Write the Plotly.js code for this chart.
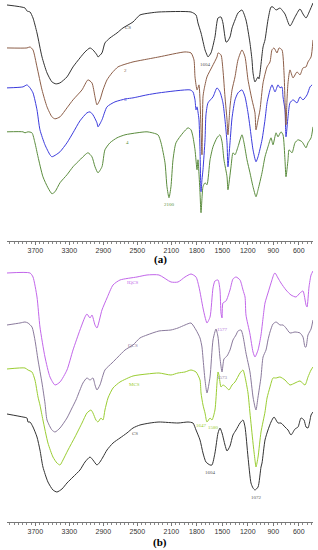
<!DOCTYPE html>
<html><head><meta charset="utf-8">
<script src="https://cdn.plot.ly/plotly-3.0.1.min.js"></script>
<style>html,body{margin:0;padding:0;background:#fff}#c{width:318px;height:550px}</style>
</head><body><div id="c"></div>
<script>
// Wavenumber tick labels (cm-1)
const tickWn = [3700, 3300, 2900, 2500, 2100, 1800, 1500, 1200, 900, 600];

// Panel (a) series: wavenumber / relative transmittance (offset, a.u.)
const aCS_x = [4034,3822,3799,3763,3728,3681,3622,3563,3505,3458,3410,3328,3257,3175,3116,3057,3022,2975,2963,2916,2881,2822,2739,2669,2551,2469,2351,2245,1868,1809,1786,1750,1703,1680,1668,1633,1586,1550,1515,1492,1456,1444,1409,1385,1350,1315,1268,1221,1174,1150,1138,1115,1079,1068,1020,997,962,926,903,867,820,797,762,703,644,585,550,514,467,432];
const aCS_y = [236,233,230,229,223,208,184,168,159,157,158,164,174,183,189,193,191,186,184,188,198,203,208,213,219,226,228,229,229,226,218,208,191,186,184,188,204,223,224,218,199,199,204,213,221,228,231,221,198,181,168,159,164,162,194,201,221,234,234,231,233,231,227,215,224,232,227,223,231,238];

const a2_x = [4034,3799,3763,3728,3681,3622,3563,3505,3469,3410,3328,3257,3151,3081,3034,2998,2975,2940,2904,2857,2798,2728,2669,2551,2433,2245,1939,1868,1833,1821,1797,1786,1774,1762,1750,1739,1727,1715,1680,1621,1562,1550,1515,1492,1468,1444,1433,1409,1385,1350,1315,1268,1232,1197,1150,1115,1103,1079,1056,1020,973,938,915,891,856,832,797,773,762,750,738,726,703,667,620,585,550,514,491,455,432];
const a2_y = [193,193,194,191,174,151,134,124,122,124,133,141,151,161,158,144,136,141,151,161,168,174,176,179,181,184,189,188,181,164,151,153,156,141,111,86,144,151,164,174,184,188,186,171,144,121,106,134,151,164,181,191,184,161,141,128,111,121,131,158,174,179,191,193,188,193,191,168,141,116,141,158,171,163,169,166,173,174,179,184,201];

const a3_x = [4034,3846,3799,3763,3728,3681,3646,3587,3528,3505,3458,3410,3328,3257,3175,3093,3057,3022,2975,2963,2916,2857,2763,2634,2551,2386,2245,1880,1845,1821,1809,1797,1786,1774,1762,1750,1739,1727,1703,1692,1668,1609,1562,1527,1492,1468,1444,1433,1409,1385,1350,1315,1268,1232,1197,1174,1138,1103,1079,1032,997,973,938,915,879,844,820,797,785,762,750,726,703,667,620,585,550,502,467,443];
const a3_y = [153,154,156,153,148,131,111,96,86,84,86,89,98,108,120,128,129,126,118,114,121,134,139,142,143,146,148,151,149,141,131,134,129,121,91,49,61,71,101,126,138,144,153,149,138,121,98,74,98,123,141,148,151,144,128,114,91,79,84,101,121,138,151,156,149,156,153,154,144,131,104,124,138,141,138,144,141,146,154,156];

const a4_x = [4034,3846,3822,3787,3740,3705,3669,3611,3552,3505,3469,3410,3328,3257,3175,3081,3034,2998,2963,2916,2881,2822,2739,2645,2504,2386,2257,2221,2174,2151,2127,2104,2080,2045,1962,1903,1868,1845,1821,1797,1786,1762,1750,1727,1703,1680,1644,1609,1562,1527,1503,1480,1444,1433,1397,1374,1350,1315,1268,1244,1209,1174,1138,1103,1079,1032,997,962,926,903,867,844,809,785,762,750,726,714,679,644,608,561,514,491,455,432];
const a4_y = [109,109,108,109,108,98,84,64,53,47,49,58,66,74,81,88,84,74,68,74,91,98,103,106,108,109,106,98,78,54,43,54,81,98,108,113,111,104,91,71,81,48,28,54,58,56,81,94,103,106,99,81,64,51,74,88,86,94,106,98,81,68,54,44,51,68,84,94,103,96,108,104,109,106,81,64,81,91,88,98,101,99,93,98,103,114];

// Panel (b) series
const bIQCS_x = [4034,3763,3728,3681,3646,3587,3528,3469,3410,3328,3257,3175,3116,3093,3057,3034,2998,2975,2916,2857,2786,2704,2504,2386,2245,2104,2021,1939,1868,1809,1774,1727,1703,1680,1644,1609,1586,1550,1527,1515,1503,1492,1456,1409,1374,1338,1291,1256,1232,1221,1174,1138,1115,1079,1044,1020,997,962,926,891,879,844,809,750,691,632,585,550,514,502,479,455,432];
const bIQCS_y = [249,249,245,225,195,165,145,137,140,152,172,192,205,208,204,207,197,194,212,224,237,242,245,247,247,240,240,245,248,245,235,214,205,199,205,234,241,242,232,209,204,219,221,232,243,245,242,232,225,207,188,170,165,172,187,204,219,229,239,248,249,244,239,232,227,225,229,231,217,215,235,247,251];

const bQCS_x = [4034,3881,3822,3787,3740,3705,3669,3622,3587,3563,3505,3469,3410,3328,3269,3222,3140,3093,3057,3022,2998,2975,2940,2881,2798,2728,2645,2551,2469,2386,2245,2104,2021,1939,1868,1809,1762,1739,1727,1703,1680,1644,1609,1574,1550,1527,1503,1480,1444,1409,1374,1338,1315,1279,1256,1221,1174,1138,1115,1103,1079,1044,1020,985,962,938,903,867,820,785,750,703,644,585,550,526,514,491,455,432];
const bQCS_y = [197,199,200,199,195,182,162,139,119,102,92,90,94,104,114,122,139,144,142,144,137,132,137,152,159,165,172,177,184,187,191,192,194,197,199,192,184,175,164,142,129,145,182,193,185,164,150,163,166,172,182,187,191,192,186,169,150,125,115,112,125,145,165,172,182,190,198,200,197,197,194,189,190,189,185,175,175,187,193,202];

const bMCS_x = [4034,3822,3787,3740,3705,3669,3646,3611,3552,3493,3446,3410,3375,3316,3234,3151,3093,3045,3022,2987,2963,2928,2904,2881,2845,2786,2704,2551,2386,2245,2104,2021,1939,1868,1809,1762,1750,1727,1703,1680,1644,1621,1586,1562,1550,1539,1515,1492,1456,1421,1385,1350,1291,1256,1232,1197,1174,1138,1115,1103,1079,1044,997,973,938,903,867,820,762,703,644,585,526,491,455,432];
const bMCS_y = [153,154,152,150,142,125,117,102,79,65,59,57,62,72,85,99,109,112,109,102,100,104,102,112,124,134,140,146,148,149,147,149,150,152,150,142,129,117,109,100,104,102,112,139,150,147,135,137,135,132,137,140,149,152,145,129,109,79,62,55,65,90,110,124,135,144,144,145,142,137,139,141,137,145,152,155];

const bCS_x = [4034,3846,3799,3787,3763,3728,3681,3646,3611,3552,3493,3446,3387,3328,3257,3175,3116,3057,3022,2975,2940,2904,2857,2786,2704,2622,2551,2469,2351,2245,2021,1903,1845,1809,1762,1727,1692,1644,1621,1586,1550,1527,1503,1468,1444,1409,1374,1338,1291,1256,1232,1197,1162,1138,1115,1079,1044,1032,997,962,926,891,844,809,762,726,691,644,608,573,538,514,491,467,455,432];
const bCS_y = [108,105,104,100,100,95,85,72,55,40,32,30,33,39,45,52,60,65,62,57,60,65,72,79,84,89,94,97,99,100,99,100,99,92,82,69,60,57,57,69,89,94,89,77,71,76,87,92,99,102,95,65,39,34,32,35,55,59,82,92,100,105,99,99,95,92,87,93,95,104,102,95,94,102,107,110];

const line = (x, y, color, xa, ya) => ({x, y, xaxis: xa, yaxis: ya, type: 'scatter', mode: 'lines',
  line: {color, width: 1, shape: 'spline', smoothing: 0.6}, hoverinfo: 'skip', showlegend: false});

const data = [
  line(a4_x, a4_y, '#5b8c3e', 'x', 'y'),
  line(a3_x, a3_y, '#3b3bdc', 'x', 'y'),
  line(a2_x, a2_y, '#8c5e48', 'x', 'y'),
  line(aCS_x, aCS_y, '#333333', 'x', 'y'),
  line(bCS_x, bCS_y, '#333333', 'x2', 'y2'),
  line(bMCS_x, bMCS_y, '#9acd32', 'x2', 'y2'),
  line(bQCS_x, bQCS_y, '#8a7a9c', 'x2', 'y2'),
  line(bIQCS_x, bIQCS_y, '#c266ea', 'x2', 'y2')
];

const xax = (anchor) => ({
  range: [4034, 432], anchor, showgrid: false, zeroline: false,
  showline: true, linecolor: '#777', linewidth: 1,
  tickmode: 'array', tickvals: tickWn, ticktext: tickWn.map(String),
  ticks: 'outside', ticklen: 3, tickcolor: '#777', tickwidth: 1,
  tickfont: {family: 'Liberation Sans, Arial, sans-serif', size: 7, color: '#333'},
  minor: {tickmode: 'linear', tick0: 0, dtick: 50, ticks: 'outside', ticklen: 2, tickcolor: '#888', tickwidth: 1, showgrid: false}
});
const yax = (anchor, dom, top) => ({domain: dom, range: [0, top], anchor, visible: false, fixedrange: true});

const lab = (text, x, y, xr, yr, color) => ({text, x, y, xref: xr, yref: yr, showarrow: false,
  xanchor: 'center', yanchor: 'middle', font: {family: 'Liberation Serif, serif', size: 5, color}});

const layout = {
  width: 318, height: 550,
  margin: {l: 7, r: 5, t: 0, b: 0},
  paper_bgcolor: '#fff', plot_bgcolor: '#fff',
  xaxis: xax('y'), yaxis: yax('x', [0.5624, 1], 241),
  xaxis2: xax('y2'), yaxis2: yax('x2', [0.0509, 0.5091], 252),
  annotations: [
    lab('CS', 2610, 213, 'x', 'y', '#555'),
    lab('2', 2634, 170, 'x', 'y', '#8c5e48'),
    lab('3', 2634, 141, 'x', 'y', '#3b3bdc'),
    lab('4', 2610, 98, 'x', 'y', '#5b8c3e'),
    lab('1604', 1703, 176, 'x', 'y', '#555'),
    lab('2100', 2116, 36, 'x', 'y', '#5b8c3e'),
    lab('IQCS', 2551, 239, 'x2', 'y2', '#c266ea'),
    lab('QCS', 2551, 176, 'x2', 'y2', '#8a7a9c'),
    lab('MCS', 2528, 137, 'x2', 'y2', '#9acd32'),
    lab('CS', 2528, 89, 'x2', 'y2', '#555'),
    lab('1577', 1492, 192, 'x2', 'y2', '#b070d8'),
    lab('1573', 1503, 144, 'x2', 'y2', '#8a7a9c'),
    lab('1647', 1750, 97, 'x2', 'y2', '#9acd32'),
    lab('1580', 1609, 95, 'x2', 'y2', '#9acd32'),
    lab('1604', 1644, 50, 'x2', 'y2', '#555'),
    lab('1072', 1103, 25, 'x2', 'y2', '#555'),
    {text: '<b>(a)</b>', x: 0.5, y: 1 - 260/550, xref: 'paper', yref: 'paper', showarrow: false,
     xanchor: 'center', yanchor: 'middle', font: {family: 'Liberation Serif, serif', size: 11, color: '#000'}},
    {text: '<b>(b)</b>', x: 0.5, y: 1 - 542/550, xref: 'paper', yref: 'paper', showarrow: false,
     xanchor: 'center', yanchor: 'middle', font: {family: 'Liberation Serif, serif', size: 11, color: '#000'}}
  ]
};

Plotly.newPlot('c', data, layout, {staticPlot: true, displayModeBar: false});
</script></body></html>
